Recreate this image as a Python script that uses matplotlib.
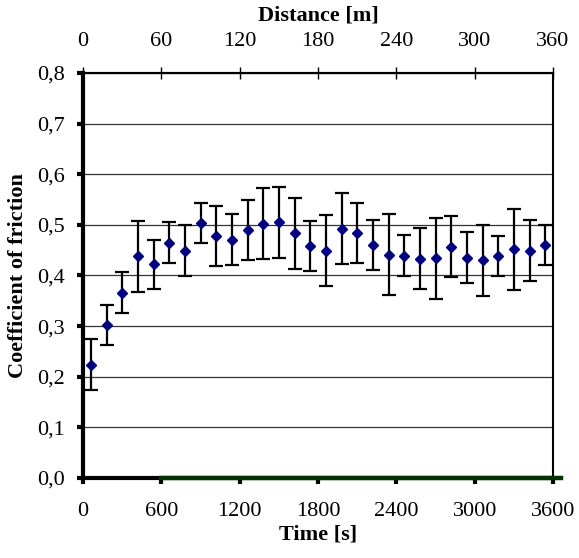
import matplotlib.pyplot as plt
from matplotlib.ticker import FuncFormatter, MultipleLocator, FixedLocator

# time of each measurement [s]
time_s = [60, 180, 300, 420, 540, 660, 780, 900, 1020, 1140,
          1260, 1380, 1500, 1620, 1740, 1860, 1980, 2100, 2220, 2340,
          2460, 2580, 2700, 2820, 2940, 3060, 3180, 3300, 3420, 3540]
# mean coefficient of friction
cof = [0.224, 0.302, 0.366, 0.438, 0.422, 0.465, 0.449, 0.504, 0.478, 0.471,
       0.490, 0.502, 0.505, 0.483, 0.458, 0.449, 0.492, 0.484, 0.460, 0.441,
       0.439, 0.433, 0.434, 0.457, 0.435, 0.430, 0.438, 0.452, 0.449, 0.460]
# standard deviation
cof_err = [0.050, 0.040, 0.040, 0.070, 0.049, 0.040, 0.050, 0.040, 0.060, 0.050,
           0.060, 0.070, 0.070, 0.070, 0.050, 0.070, 0.070, 0.060, 0.050, 0.080,
           0.040, 0.060, 0.080, 0.060, 0.050, 0.070, 0.040, 0.080, 0.060, 0.040]
distance_ticks = [0, 60, 120, 180, 240, 300, 360]

plt.rcParams['font.family'] = ['Liberation Serif', 'DejaVu Serif']

fig = plt.figure(figsize=(5.79, 5.58), dpi=100)
ax = fig.add_axes([0.1434, 0.1434, 0.8117, 0.7258])

ax.errorbar(time_s, cof, yerr=cof_err, fmt='D', color='#000080', markersize=5.5,
            ecolor='black', elinewidth=1.6, capsize=5, capthick=1.6, zorder=3)

ax.set_xlim(0, 3600)
ax.set_ylim(0, 0.8)
ax.xaxis.set_major_locator(MultipleLocator(600))
ax.yaxis.set_major_locator(MultipleLocator(0.1))
ax.yaxis.set_major_formatter(FuncFormatter(lambda v, p: f"{v:.1f}".replace('.', ',')))
ax.yaxis.grid(True, color='#333333', linewidth=0.9)
ax.set_axisbelow(True)

ax.tick_params(axis='both', labelsize=16, direction='out', length=4, width=3)
ax.tick_params(axis='y', pad=9)
ax.tick_params(axis='x', pad=13)

ax.spines['left'].set_linewidth(3)
ax.spines['bottom'].set_linewidth(3)
ax.spines['top'].set_linewidth(1.5)
ax.spines['right'].set_linewidth(1.5)
# green part of the bottom axis line
ax.axhline(0, xmin=600 / 3600, xmax=1.017, color='#003300', linewidth=3.2,
           clip_on=False, zorder=4)

ax.set_xlabel('Time [s]', fontsize=16, fontweight='bold', labelpad=3)
ax.set_ylabel('Coefficient of friction', fontsize=16, fontweight='bold', labelpad=7)

top = ax.secondary_xaxis('top', functions=(lambda t: t / 10, lambda d: d * 10))
top.xaxis.set_major_locator(FixedLocator(distance_ticks))
top.tick_params(labelsize=16, direction='inout', length=8, width=1, pad=12)
top.spines['top'].set_linewidth(1.5)
top.set_xlabel('Distance [m]', fontsize=16, fontweight='bold', labelpad=8)

fig.savefig('out.png', dpi=100)
